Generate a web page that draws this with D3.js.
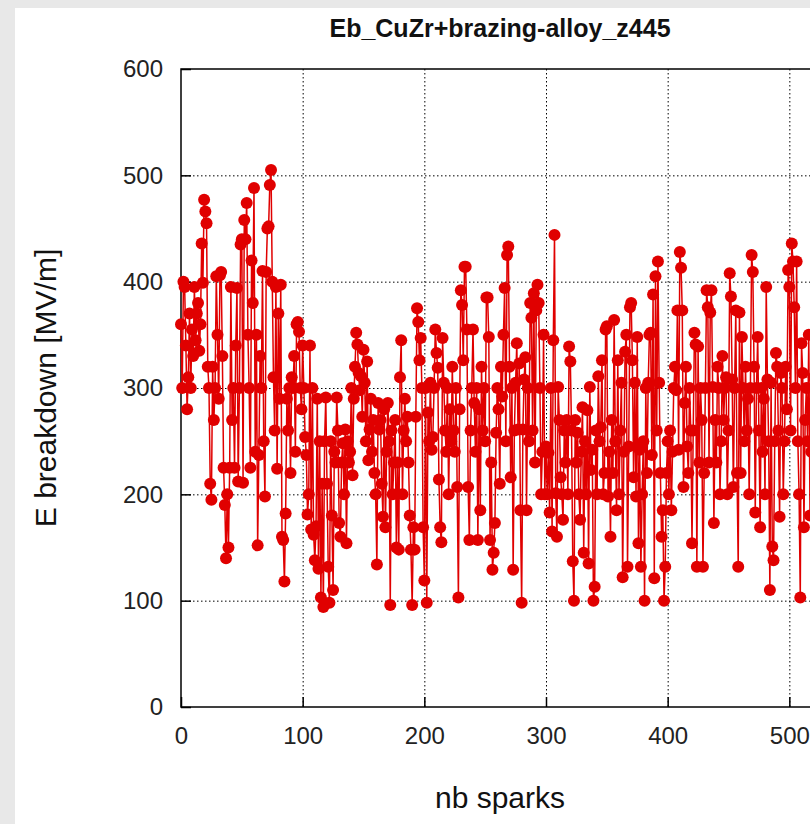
<!DOCTYPE html>
<html>
<head>
<meta charset="utf-8">
<script src="https://cdn.jsdelivr.net/npm/d3@7"></script>
<style>
  html, body { margin: 0; padding: 0; background: #e8e8e8; overflow: hidden; }
  svg { display: block; }
  text { font-family: "Liberation Sans", Arial, sans-serif; }
</style>
</head>
<body>
<div id="chart"></div>
<script>
// breakdown field per spark (MV/m), index = spark number
const ebValues = [
  360, 300, 400, 395, 340, 280, 310, 370, 300, 355, 330, 395, 345, 370, 380, 335, 360, 436, 399, 477,
  466, 455, 320, 300, 210, 195, 320, 270, 300, 405, 350, 290, 406, 409, 330, 225, 190, 140, 200, 150,
  225, 395, 270, 300, 225, 340, 394, 212, 300, 435, 440, 211, 458, 440, 474, 350, 300, 225, 420, 380,
  488, 240, 350, 152, 237, 330, 300, 410, 250, 198, 409, 450, 452, 491, 505, 400, 310, 260, 395, 224,
  370, 290, 397, 160, 157, 118, 182, 290, 260, 300, 220, 310, 300, 330, 240, 360, 362, 353, 300, 280,
  340, 300, 254, 237, 181, 200, 340, 167, 300, 162, 138, 170, 290, 130, 250, 103, 210, 94, 250, 291,
  210, 132, 98, 250, 180, 110, 240, 230, 291, 260, 173, 160, 230, 248, 200, 261, 154, 250, 230, 240,
  300, 218, 290, 320, 352, 341, 314, 298, 311, 273, 336, 305, 250, 325, 232, 261, 290, 240, 270, 220,
  200, 134, 286, 261, 270, 210, 179, 280, 169, 240, 286, 250, 96, 260, 200, 230, 270, 150, 230, 148,
  310, 345, 200, 260, 290, 250, 273, 230, 180, 148, 96, 169, 148, 273, 375, 362, 326, 347, 300, 169,
  119, 300, 98, 277, 250, 305, 242, 254, 300, 355, 333, 319, 214, 169, 155, 347, 305, 260, 240, 300,
  200, 280, 250, 320, 260, 240, 300, 207, 103, 280, 392, 378, 326, 414, 414, 355, 207, 157, 260, 300,
  355, 286, 240, 300, 157, 280, 185, 320, 260, 300, 250, 385, 385, 348, 157, 230, 129, 145, 173, 258,
  300, 280, 210, 320, 292, 350, 394, 250, 425, 433, 320, 216, 300, 129, 260, 305, 342, 261, 323, 185,
  98, 261, 308, 329, 185, 300, 250, 380, 366, 260, 389, 230, 373, 397, 380, 300, 200, 240, 350, 200,
  245, 200, 239, 183, 300, 165, 345, 444, 201, 160, 301, 270, 216, 200, 176, 260, 230, 270, 200, 339,
  325, 260, 137, 100, 270, 230, 258, 200, 176, 240, 282, 145, 250, 200, 279, 135, 301, 223, 242, 100,
  113, 260, 200, 311, 250, 263, 326, 200, 220, 355, 358, 198, 240, 160, 270, 220, 364, 250, 185, 326,
  200, 260, 305, 122, 240, 334, 350, 132, 245, 376, 380, 326, 216, 305, 198, 348, 154, 242, 132, 200,
  250, 100, 300, 220, 305, 350, 352, 237, 388, 121, 405, 260, 419, 305, 220, 160, 185, 100, 132, 220,
  250, 200, 260, 185, 240, 300, 320, 298, 373, 242, 428, 413, 373, 207, 286, 320, 245, 220, 300, 260,
  154, 260, 352, 341, 132, 339, 230, 300, 270, 132, 220, 300, 392, 376, 230, 371, 392, 301, 173, 270,
  230, 320, 300, 200, 250, 330, 270, 300, 310, 200, 260, 408, 386, 308, 207, 300, 373, 220, 132, 371,
  220, 348, 300, 250, 320, 260, 290, 200, 300, 425, 409, 320, 183, 300, 348, 260, 169, 300, 240, 290,
  200, 395, 308, 250, 110, 305, 151, 138, 250, 333, 320, 260, 179, 314, 300, 200, 250, 320, 280, 411,
  395, 260, 436, 419, 376, 300, 419, 250, 200, 103, 342, 314, 169, 270, 300, 250, 350, 180, 240, 300,
  310, 220, 280, 260, 330, 200, 300, 250, 280, 240
];

const xTicks = [0, 100, 200, 300, 400, 500, 600];
const yTicks = [0, 100, 200, 300, 400, 500, 600];

const titleText = "Eb_CuZr+brazing-alloy_z445";
const xLabel = "nb sparks";
const yLabel = "E breakdown [MV/m]";

// layout
const W = 810, H = 824;
const plot = { left: 181, top: 69, right: 911, bottom: 707 };

const svg = d3.select("#chart")
  .append("svg")
  .attr("width", W)
  .attr("height", H);

// white panel on the grey page
svg.append("rect")
  .attr("x", 15).attr("y", 8)
  .attr("width", W).attr("height", H)
  .attr("fill", "#fff");

const x = d3.scaleLinear().domain([0, 600]).range([plot.left, plot.right]);
const y = d3.scaleLinear().domain([0, 600]).range([plot.bottom, plot.top]);

// grid (dotted)
const grid = svg.append("g").attr("stroke", "#000").attr("stroke-width", 1)
  .attr("stroke-dasharray", "1.5,2.5");
yTicks.slice(1, -1).forEach(t => {
  grid.append("line")
    .attr("x1", plot.left).attr("x2", plot.right)
    .attr("y1", y(t) + 0.5).attr("y2", y(t) + 0.5);
});
xTicks.slice(1, -1).forEach(t => {
  grid.append("line")
    .attr("x1", x(t) + 0.5).attr("x2", x(t) + 0.5)
    .attr("y1", plot.top).attr("y2", plot.bottom);
});

// axes with inward ticks
const yAxis = d3.axisLeft(y).tickValues(yTicks).tickSize(-10).tickPadding(18);
const xAxis = d3.axisBottom(x).tickValues(xTicks).tickSize(-10).tickPadding(20);

svg.append("g")
  .attr("transform", `translate(${plot.left},0)`)
  .call(yAxis)
  .call(g => g.select(".domain").remove())
  .call(g => g.selectAll("line").attr("stroke", "#000").attr("stroke-width", 1.5))
  .call(g => g.selectAll("text").attr("font-size", 24).attr("fill", "#222"));

svg.append("g")
  .attr("transform", `translate(0,${plot.bottom})`)
  .call(xAxis)
  .call(g => g.select(".domain").remove())
  .call(g => g.selectAll("line").attr("stroke", "#000").attr("stroke-width", 1.5))
  .call(g => g.selectAll("text").attr("font-size", 24).attr("fill", "#222"));

// frame
svg.append("rect")
  .attr("x", plot.left).attr("y", plot.top)
  .attr("width", plot.right - plot.left).attr("height", plot.bottom - plot.top)
  .attr("fill", "none").attr("stroke", "#000").attr("stroke-width", 1.5);

// data line + markers
const red = "#e00000";
const line = d3.line()
  .x((d, i) => x(i))
  .y(d => y(d));

svg.append("path")
  .datum(ebValues)
  .attr("d", line)
  .attr("fill", "none")
  .attr("stroke", red)
  .attr("stroke-width", 1.5);

svg.append("g")
  .selectAll("circle")
  .data(ebValues)
  .join("circle")
  .attr("cx", (d, i) => x(i))
  .attr("cy", d => y(d))
  .attr("r", 6)
  .attr("fill", red);

// texts
svg.append("text")
  .attr("x", 500).attr("y", 37)
  .attr("text-anchor", "middle")
  .attr("font-size", 25).attr("font-weight", "bold")
  .attr("fill", "#111")
  .text(titleText);

svg.append("text")
  .attr("x", 500).attr("y", 808)
  .attr("text-anchor", "middle")
  .attr("font-size", 30)
  .attr("fill", "#111")
  .text(xLabel);

svg.append("text")
  .attr("transform", "translate(56,388) rotate(-90)")
  .attr("text-anchor", "middle")
  .attr("font-size", 30)
  .attr("fill", "#111")
  .text(yLabel);
</script>
</body>
</html>
